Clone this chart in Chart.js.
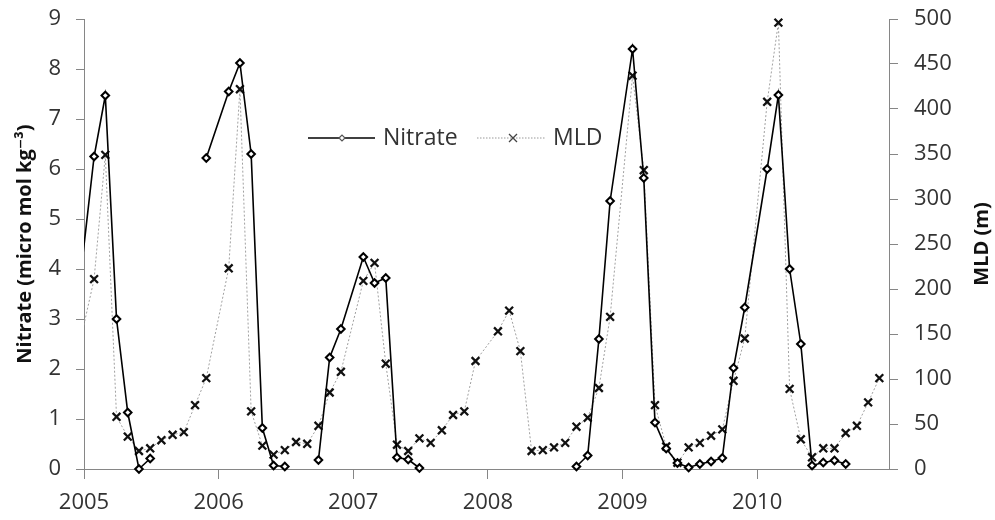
<!DOCTYPE html>
<html lang="en">
<head>
    <meta charset="UTF-8">
    <title>Nitrate and MLD</title>
    <script src="https://cdn.jsdelivr.net/npm/chart.js"></script>
    <style>
        body {
            margin: 0;
            padding: 0;
            background-color: white;
        }
        #chart {
            display: block;
        }
    </style>
</head>
<body>
    <canvas id="chart" width="995" height="520"></canvas>

    <script>
        // sample months counted from Jan 2005 (= 1); Decembers were not sampled
        const months = [-1, 1, 2, 3, 4, 5, 6, 7, 8, 9, 10, 11,
            13, 14, 15, 16, 17, 18, 19, 20, 21, 22, 23,
            25, 26, 27, 28, 29, 30, 31, 32, 33, 34, 35,
            37, 38, 39, 40, 41, 42, 43, 44, 45, 46, 47,
            49, 50, 51, 52, 53, 54, 55, 56, 57, 58, 59,
            61, 62, 63, 64, 65, 66, 67, 68, 69, 70, 71];

        // micro mol kg-3
        const nitrate = [2.3, 6.25, 7.47, 3.0, 1.13, 0.0, 0.21, null, null, null, null, 6.22,
            7.55, 8.12, 6.30, 0.82, 0.07, 0.05, null, null, 0.18, 2.23, 2.80,
            4.24, 3.72, 3.82, 0.23, 0.19, 0.02, null, null, null, null, null,
            null, null, null, null, null, null, null, 0.05, 0.27, 2.60, 5.36,
            8.40, 5.82, 0.93, 0.41, 0.12, 0.03, 0.10, 0.15, 0.22, 2.02, 3.23,
            6.00, 7.48, 4.00, 2.50, 0.07, 0.13, 0.17, 0.10, null, null, null];

        // metres
        const mld = [99, 211, 349, 58, 36, 20, 23, 32, 38, 41, 71, 101,
            223, 422, 64, 26, 16, 21, 30, 28, 48, 85, 108,
            209, 229, 117, 27, 20, 34, 29, 43, 60, 64, 120,
            153, 176, 131, 20, 21, 24, 29, 47, 57, 90, 169,
            437, 332, 71, 25, 7, 24, 29, 37, 44, 98, 145,
            408, 496, 89, 33, 13, 23, 23, 40, 48, 74, 101];

        const yearTicks = [2005, 2006, 2007, 2008, 2009, 2010];

        const FONT = '"Open Sans", "DejaVu Sans", sans-serif';
        const AXIS = '#868686';

        function toYear(m) {
            return 2005 + (m - 0.1) / 12;
        }
        const nitratePts = months.map((m, i) => ({ x: toYear(m), y: nitrate[i] }));
        const mldPts = months.map((m, i) => ({ x: toYear(m), y: mld[i] }));

        // fixed box sizes so the plot area lands where the original one is
        function fixBox(size) {
            return (s) => {
                if (s.isHorizontal()) s.height = size; else s.width = size;
                s.paddingTop = 0;
                s.paddingBottom = 0;
                s.paddingLeft = 0;
                s.paddingRight = 0;
            };
        }

        // legend inside the plot + right axis title reading upwards
        const extras = {
            id: 'extras',
            afterDraw(chart) {
                const ctx = chart.ctx;
                const a = chart.chartArea;

                ctx.save();
                ctx.translate(982, (a.top + a.bottom) / 2);
                ctx.rotate(-Math.PI / 2);
                ctx.font = 'bold 20px ' + FONT;
                ctx.fillStyle = '#111';
                ctx.textAlign = 'center';
                ctx.textBaseline = 'middle';
                ctx.fillText('MLD (m)', 0, 0);
                ctx.restore();

                const ly = a.top + 119;
                const lx = a.left + 224;
                ctx.save();
                // nitrate sample
                ctx.strokeStyle = '#000';
                ctx.lineWidth = 1.5;
                ctx.beginPath();
                ctx.moveTo(lx, ly);
                ctx.lineTo(lx + 67, ly);
                ctx.stroke();
                ctx.fillStyle = 'white';
                ctx.lineWidth = 1.2;
                ctx.strokeStyle = '#555';
                ctx.beginPath();
                ctx.moveTo(lx + 34 - 3, ly);
                ctx.lineTo(lx + 34, ly - 3);
                ctx.lineTo(lx + 34 + 3, ly);
                ctx.lineTo(lx + 34, ly + 3);
                ctx.closePath();
                ctx.fill();
                ctx.stroke();

                ctx.font = '23px ' + FONT;
                ctx.fillStyle = '#333';
                ctx.textAlign = 'left';
                ctx.textBaseline = 'middle';
                ctx.fillText('Nitrate', lx + 75, ly);

                // MLD sample
                ctx.strokeStyle = '#999';
                ctx.lineWidth = 1;
                ctx.setLineDash([1.5, 1.5]);
                ctx.beginPath();
                ctx.moveTo(lx + 169, ly);
                ctx.lineTo(lx + 237, ly);
                ctx.stroke();
                ctx.setLineDash([]);
                ctx.strokeStyle = '#444';
                ctx.lineWidth = 1.3;
                ctx.beginPath();
                ctx.moveTo(lx + 201, ly - 4);
                ctx.lineTo(lx + 209, ly + 4);
                ctx.moveTo(lx + 209, ly - 4);
                ctx.lineTo(lx + 201, ly + 4);
                ctx.stroke();
                ctx.fillText('MLD', lx + 245, ly);
                ctx.restore();
            }
        };

        new Chart(document.getElementById('chart'), {
            type: 'line',
            data: {
                datasets: [{
                    label: 'Nitrate',
                    data: nitratePts,
                    yAxisID: 'y',
                    borderColor: '#000',
                    borderWidth: 1.6,
                    pointStyle: 'rectRot',
                    pointRadius: 3.8,
                    pointBorderWidth: 2,
                    pointBorderColor: '#000',
                    pointBackgroundColor: 'white',
                    spanGaps: false,
                    clip: { left: 0, top: 10, right: 10, bottom: 10 },
                    order: 1
                }, {
                    label: 'MLD',
                    data: mldPts,
                    yAxisID: 'y2',
                    borderColor: '#a0a0a0',
                    borderWidth: 1,
                    borderDash: [2, 2],
                    pointStyle: 'crossRot',
                    pointRadius: 5.5,
                    pointBorderWidth: 2.3,
                    pointBorderColor: '#111',
                    clip: { left: 0, top: 10, right: 10, bottom: 10 },
                    order: 2
                }]
            },
            options: {
                responsive: false,
                animation: false,
                events: [],
                layout: { autoPadding: false, padding: { top: 19, left: 0, right: 0, bottom: 0 } },
                plugins: {
                    legend: { display: false },
                    tooltip: { enabled: false }
                },
                scales: {
                    x: {
                        type: 'linear',
                        min: 2005,
                        max: 2010.98,
                        afterBuildTicks: (s) => { s.ticks = yearTicks.map(v => ({ value: v })); },
                        ticks: {
                            autoSkip: false,
                            maxRotation: 0,
                            padding: 11,
                            color: '#333',
                            font: { family: FONT, size: 22 },
                            callback: (v) => String(v)
                        },
                        grid: { drawOnChartArea: false, tickLength: 10, color: AXIS },
                        border: { color: AXIS, width: 1 },
                        afterFit: fixBox(51)
                    },
                    y: {
                        position: 'left',
                        min: 0,
                        max: 9,
                        ticks: {
                            stepSize: 1,
                            padding: 15,
                            color: '#333',
                            font: { family: FONT, size: 22 }
                        },
                        grid: { drawOnChartArea: false, tickLength: 8, color: AXIS },
                        border: { color: AXIS, width: 1 },
                        title: {
                            display: true,
                            text: 'Nitrate (micro mol kg\u207B\u00B3)',
                            color: '#111',
                            font: { family: FONT, size: 20, weight: 'bold' },
                            padding: { top: 13, bottom: 0 }
                        },
                        afterFit: fixBox(84)
                    },
                    y2: {
                        position: 'right',
                        min: 0,
                        max: 500,
                        ticks: {
                            stepSize: 50,
                            padding: 16,
                            color: '#333',
                            font: { family: FONT, size: 22 }
                        },
                        grid: { drawOnChartArea: false, tickLength: 9, color: AXIS },
                        border: { color: AXIS, width: 1 },
                        afterFit: fixBox(106)
                    }
                }
            },
            plugins: [extras]
        });
    </script>
</body>
</html>
